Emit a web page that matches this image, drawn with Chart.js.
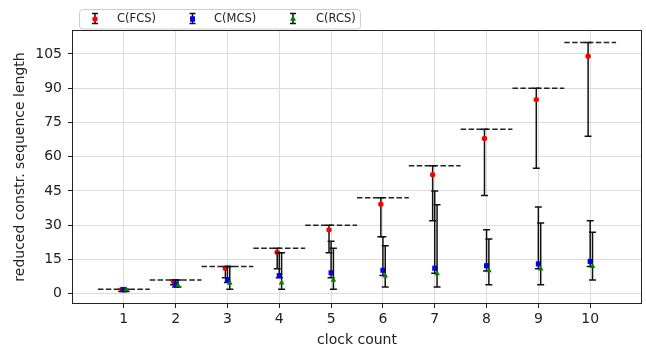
<!DOCTYPE html>
<html>
<head>
<meta charset="utf-8">
<script src="https://cdn.jsdelivr.net/npm/chart.js@4.4.1/dist/chart.umd.min.js"></script>
<style>
  html, body { margin: 0; padding: 0; background: #fff; }
</style>
</head>
<body>
<canvas id="myChart" width="646" height="351"></canvas>
<script>
// data
const clockCounts = [1, 2, 3, 4, 5, 6, 7, 8, 9, 10];
const upperBound = [2, 6, 12, 20, 30, 42, 56, 72, 90, 110];

const fcsMean = [1.9, 5.4, 11.1, 18.2, 28, 39.2, 52.1, 68, 85, 104];
const fcsMin = [1, 4, 7, 11, 18, 25, 32, 43, 55, 69];
const fcsMax = [2, 6, 12, 20, 30, 42, 56, 72, 90, 110];

const mcsMean = [1.9, 4.2, 6.1, 8, 9.2, 10.3, 11.2, 12.3, 13.1, 14.2];
const mcsMin = [1, 3, 5, 7, 7, 8, 9, 10, 11, 12];
const mcsMax = [2, 6, 12, 18, 23, 25, 45, 28, 38, 32];

const rcsMean = [1.9, 3.7, 4.7, 4.8, 6, 7.9, 8.8, 10.2, 10.9, 12];
const rcsMin = [1, 3, 2, 2, 2, 3, 3, 4, 4, 6];
const rcsMax = [2, 6, 12, 18, 20, 21, 39, 24, 31, 27];

const yTicks = [0, 15, 30, 45, 60, 75, 90, 105];
const seriesNames = ['C(FCS)', 'C(MCS)', 'C(RCS)'];

const FONT = 'DejaVu Sans';
const colors = { fcs: '#ff0000', mcs: '#0000ff', rcs: '#008000', bar: '#111111', grid: '#dcdcdc' };

// dashed segments, one per clock count, broken by null gaps
const boundData = [];
clockCounts.forEach((c, i) => {
  boundData.push({ x: c - 0.5, y: upperBound[i] });
  boundData.push({ x: c + 0.5, y: upperBound[i] });
  boundData.push({ x: c + 0.5, y: null });
});

function series(label, mean, lo, hi, shift, color, style, radius, order) {
  return {
    type: 'scatter',
    label: label,
    data: clockCounts.map((c, i) => ({ x: c + shift, y: mean[i] })),
    errLow: lo,
    errHigh: hi,
    pointStyle: style,
    pointRadius: radius,
    pointBackgroundColor: color,
    pointBorderWidth: 0,
    borderColor: color,
    order: order
  };
}

const errorBars = {
  id: 'errorBars',
  beforeDatasetDraw(chart, args) {
    const ds = chart.data.datasets[args.index];
    if (!ds.errLow) return;
    const xs = chart.scales.x, ys = chart.scales.y, c = chart.ctx;
    c.save();
    c.strokeStyle = colors.bar;
    c.lineWidth = 1.5;
    ds.data.forEach((p, i) => {
      const px = xs.getPixelForValue(p.x);
      const top = ys.getPixelForValue(ds.errHigh[i]);
      const bot = ys.getPixelForValue(ds.errLow[i]);
      c.beginPath();
      c.moveTo(px, top); c.lineTo(px, bot);
      c.moveTo(px - 3.5, top); c.lineTo(px + 3.5, top);
      c.moveTo(px - 3.5, bot); c.lineTo(px + 3.5, bot);
      c.stroke();
    });
    c.restore();
  }
};

const frameAndLegend = {
  id: 'frameAndLegend',
  afterDraw(chart) {
    const c = chart.ctx, a = chart.chartArea;
    c.save();
    c.strokeStyle = '#222';
    c.lineWidth = 1;
    c.strokeRect(Math.round(a.left) + 0.5, Math.round(a.top) + 0.5,
      Math.round(a.right - a.left) - 1, Math.round(a.bottom - a.top) - 1);

    // legend box
    const bx = 79.5, by = 9.5, bw = 281, bh = 19.5, r = 3;
    c.beginPath();
    c.moveTo(bx + r, by);
    c.lineTo(bx + bw - r, by); c.quadraticCurveTo(bx + bw, by, bx + bw, by + r);
    c.lineTo(bx + bw, by + bh - r); c.quadraticCurveTo(bx + bw, by + bh, bx + bw - r, by + bh);
    c.lineTo(bx + r, by + bh); c.quadraticCurveTo(bx, by + bh, bx, by + bh - r);
    c.lineTo(bx, by + r); c.quadraticCurveTo(bx, by, bx + r, by);
    c.fillStyle = 'rgba(255,255,255,0.85)';
    c.fill();
    c.strokeStyle = '#cccccc';
    c.stroke();

    const items = [
      { x: 95, tx: 117, color: colors.fcs, style: 'circle', r: 2.5 },
      { x: 192.5, tx: 214, color: colors.mcs, style: 'rect', r: 3.5 },
      { x: 293, tx: 316, color: colors.rcs, style: 'triangle', r: 3.2 }
    ];
    c.font = '11.5px "' + FONT + '"';
    c.textBaseline = 'middle';
    items.forEach((it, i) => {
      c.strokeStyle = colors.bar;
      c.lineWidth = 1.5;
      c.beginPath();
      c.moveTo(it.x, 13.5); c.lineTo(it.x, 23.5);
      c.moveTo(it.x - 3, 13.5); c.lineTo(it.x + 3, 13.5);
      c.moveTo(it.x - 3, 23.5); c.lineTo(it.x + 3, 23.5);
      c.stroke();
      c.fillStyle = it.color;
      Chart.helpers.drawPoint(c, { pointStyle: it.style, radius: it.r, borderWidth: 0, rotation: 0 }, it.x, 19);
      c.fill();
      c.fillStyle = '#222';
      c.fillText(seriesNames[i], it.tx, 19.5);
    });
    c.restore();
  }
};

const ctx = document.getElementById('myChart').getContext('2d');
new Chart(ctx, {
  data: {
    datasets: [
      {
        type: 'line',
        label: 'bound',
        data: boundData,
        borderColor: '#222',
        borderWidth: 1.5,
        borderDash: [5.5, 2.4],
        pointRadius: 0,
        spanGaps: false,
        fill: false,
        order: 3
      },
      series(seriesNames[0], fcsMean, fcsMin, fcsMax, -0.04, colors.fcs, 'circle', 2.7, 2),
      series(seriesNames[1], mcsMean, mcsMin, mcsMax, 0, colors.mcs, 'rect', 3.6, 1),
      series(seriesNames[2], rcsMean, rcsMin, rcsMax, 0.045, colors.rcs, 'triangle', 3.3, 0)
    ]
  },
  options: {
    responsive: false,
    animation: false,
    layout: { padding: { top: 30, right: 3, left: 0, bottom: 0 } },
    plugins: { legend: { display: false }, tooltip: { enabled: false } },
    scales: {
      x: {
        type: 'linear',
        min: 0,
        max: 11,
        afterBuildTicks: s => { s.ticks = clockCounts.map(v => ({ value: v })); },
        afterFit: s => { s.height = 47; },
        grid: { color: colors.grid, tickColor: '#222', tickLength: 4 },
        border: { display: false },
        ticks: { font: { family: FONT, size: 14 }, color: '#222', padding: 3, maxRotation: 0 },
        title: { display: true, text: 'clock count', font: { family: FONT, size: 14 }, color: '#222', padding: { top: 0, bottom: 2 } }
      },
      y: {
        type: 'linear',
        min: -4.45,
        max: 115.45,
        afterBuildTicks: s => { s.ticks = yTicks.map(v => ({ value: v })); },
        afterFit: s => { s.width = 72; },
        grid: { color: colors.grid, tickColor: '#222', tickLength: 4 },
        border: { display: false },
        ticks: { font: { family: FONT, size: 14 }, color: '#222', padding: 6 },
        title: { display: true, text: 'reduced constr. sequence length', font: { family: FONT, size: 14 }, color: '#222', padding: { top: 12, bottom: 0 } }
      }
    }
  },
  plugins: [errorBars, frameAndLegend]
});
</script>
</body>
</html>
